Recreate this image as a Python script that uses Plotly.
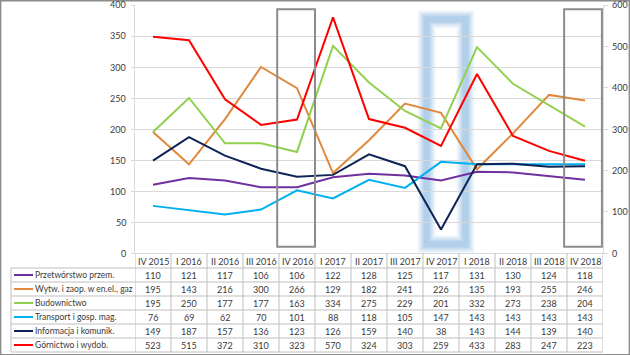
import plotly.graph_objects as go

W, H = 630, 355

categories = ["IV 2015", "I 2016", "II 2016", "III 2016", "IV 2016", "I 2017", "II 2017",
              "III 2017", "IV 2017", "I 2018", "II 2018", "III 2018", "IV 2018"]

przetworstwo = [110, 121, 117, 106, 106, 122, 128, 125, 117, 131, 130, 124, 118]
energia = [195, 143, 216, 300, 266, 129, 182, 241, 226, 135, 193, 255, 246]
budownictwo = [195, 250, 177, 177, 163, 334, 275, 229, 201, 332, 273, 238, 204]
transport = [76, 69, 62, 70, 101, 88, 118, 105, 147, 143, 143, 143, 143]
informacja = [149, 187, 157, 136, 123, 126, 159, 140, 38, 143, 144, 139, 140]
gornictwo = [523, 515, 372, 310, 323, 570, 324, 303, 259, 433, 283, 247, 223]

series_names = ["Przetwórstwo przem.", "Wytw. i zaop. w en.el., gaz", "Budownictwo",
                "Transport i gosp. mag.", "Informacja i komunik.", "Górnictwo i wydob."]
series_values = [przetworstwo, energia, budownictwo, transport, informacja, gornictwo]
series_colors = ["#7030A0", "#E0883C", "#92D050", "#00B0F0", "#0E2457", "#FF0000"]
series_axis = ["y", "y", "y", "y", "y", "y2"]

left_ticks = [0, 50, 100, 150, 200, 250, 300, 350, 400]
right_ticks = [0, 100, 200, 300, 400, 500, 600]

# layout in pixels
PX_L, PX_R, PX_T, PX_B = 135, 603, 5, 253
def px(x): return x / W
def py(y): return (H - y) / H

xs = list(range(len(categories)))
fig = go.Figure()
for name, vals, col, ax in zip(series_names, series_values, series_colors, series_axis):
    fig.add_trace(go.Scatter(x=xs, y=vals, name=name, mode="lines",
                             line=dict(color=col, width=2), yaxis=ax, showlegend=False))

shapes = []
annotations = []
FONT = "Lato, Open Sans, sans-serif"
TXT = "#3A3A3A"
GRID = "#D9D9D9"
FS = 9

# blurry blue highlight around IV 2017
for w, op in [(18, 0.12), (15, 0.16), (12, 0.22), (9, 0.3), (6, 0.4)]:
    shapes.append(dict(type="rect", xref="x", yref="y", x0=7.6, x1=8.68, y0=14, y1=377,
                       line=dict(color="#9DC3E6", width=w), opacity=op, layer="below"))

# gray highlight rectangles
for x0, x1 in [(3.45, 4.5), (11.42, 12.47)]:
    shapes.append(dict(type="rect", xref="x", yref="y", x0=x0, x1=x1, y0=10, y1=393,
                       line=dict(color="#8C8C8C", width=2), layer="above"))

# table
ROW_TOP = 253
HDR_BOT = 268
ROW_H = 14
nrows = len(series_names)
TBL_BOT = HDR_BOT + ROW_H * nrows
TBL_LEFT = 11
LINEC = "#BFBFBF"
for k in range(len(categories) + 1):
    shapes.append(dict(type="line", xref="x", yref="paper", x0=k - 0.5, x1=k - 0.5,
                       y0=py(ROW_TOP), y1=py(TBL_BOT), line=dict(color=LINEC, width=1)))
shapes.append(dict(type="line", xref="paper", yref="paper", x0=px(TBL_LEFT), x1=px(TBL_LEFT),
                   y0=py(HDR_BOT), y1=py(TBL_BOT), line=dict(color=LINEC, width=1)))
for r in range(nrows + 1):
    yy = HDR_BOT + r * ROW_H
    shapes.append(dict(type="line", xref="paper", yref="paper", x0=px(TBL_LEFT), x1=px(PX_R),
                       y0=py(yy), y1=py(yy), line=dict(color=LINEC, width=1)))

for i, c in enumerate(categories):
    annotations.append(dict(x=i, y=py((ROW_TOP + HDR_BOT) / 2 + 0.5), xref="x", yref="paper",
                            text=c, showarrow=False, font=dict(family=FONT, size=FS, color=TXT),
                            xanchor="center", yanchor="middle"))
for r, (name, vals, col) in enumerate(zip(series_names, series_values, series_colors)):
    yc = HDR_BOT + r * ROW_H + ROW_H / 2
    shapes.append(dict(type="line", xref="paper", yref="paper", x0=px(14), x1=px(33),
                       y0=py(yc), y1=py(yc), line=dict(color=col, width=2)))
    annotations.append(dict(x=px(33), y=py(yc), xref="paper", yref="paper", text=name,
                            showarrow=False, font=dict(family=FONT, size=8.5, color=TXT),
                            xanchor="left", yanchor="middle"))
    for i, v in enumerate(vals):
        annotations.append(dict(x=i, y=py(yc), xref="x", yref="paper", text=str(v),
                                showarrow=False, font=dict(family=FONT, size=FS, color=TXT),
                                xanchor="center", yanchor="middle"))

# axis tick labels
for v in left_ticks:
    annotations.append(dict(x=px(128), y=v, xref="paper", yref="y", text=str(v),
                            showarrow=False, font=dict(family=FONT, size=FS, color=TXT),
                            xanchor="right", yanchor="middle"))
for v in right_ticks:
    annotations.append(dict(x=px(610), y=v, xref="paper", yref="y2", text=str(v),
                            showarrow=False, font=dict(family=FONT, size=FS, color=TXT),
                            xanchor="left", yanchor="middle"))

# outer chart border
shapes.append(dict(type="rect", xref="paper", yref="paper", x0=0.001, x1=0.999, y0=0.001, y1=0.998,
                   line=dict(color="#8C8C8C", width=1.5)))

fig.update_layout(
    width=W, height=H, margin=dict(l=0, r=0, t=0, b=0),
    paper_bgcolor="white", plot_bgcolor="white",
    xaxis=dict(domain=[px(PX_L), px(PX_R)], range=[-0.5, len(categories) - 0.5],
               showticklabels=False, showgrid=False, zeroline=False, ticks="",
               showline=True, linecolor=GRID, linewidth=1, fixedrange=True),
    yaxis=dict(domain=[py(PX_B), py(PX_T)], range=[0, 400], tickvals=left_ticks,
               showticklabels=False,
               showgrid=True, gridcolor=GRID, gridwidth=1, zeroline=False,
               showline=True, linecolor=GRID, linewidth=1, ticks="outside", ticklen=3,
               tickcolor=GRID),
    yaxis2=dict(overlaying="y", side="right", anchor="x", range=[0, 600], tickvals=right_ticks,
                showticklabels=False,
                showgrid=False, zeroline=False, showline=True, linecolor=GRID, linewidth=1,
                ticks="outside", ticklen=4, tickcolor=GRID),
    shapes=shapes, annotations=annotations,
)

fig.write_html("out.html", config={"displayModeBar": False},
               post_script="document.body.style.margin='0';")
